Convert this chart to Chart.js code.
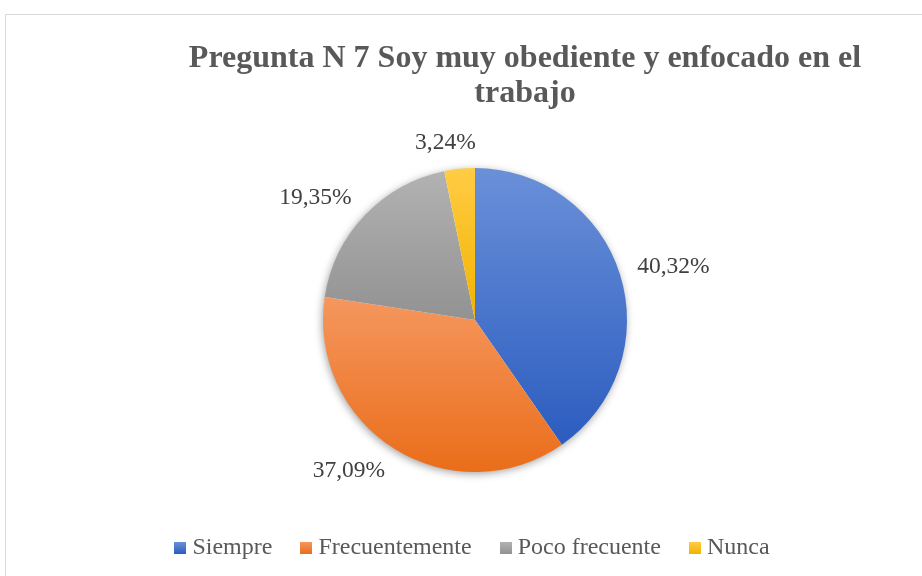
<!DOCTYPE html>
<html><head><meta charset="utf-8">
<script src="https://cdn.jsdelivr.net/npm/chart.js@4.4.0/dist/chart.umd.min.js"></script>
<style>html,body{margin:0;padding:0;background:#fff;overflow:hidden}#wrap{width:922px;height:576px;position:relative}</style>
</head><body><div id="wrap"><canvas id="c" width="922" height="576"></canvas></div>
<script>
const chartTitle = ['Pregunta N 7 Soy muy obediente y enfocado en el', 'trabajo'];
const categories = ['Siempre', 'Frecuentemente', 'Poco frecuente', 'Nunca'];
const percentages = [40.32, 37.09, 19.35, 3.24];
const valueLabels = ['40,32%', '37,09%', '19,35%', '3,24%'];
const colorsLight = ['#6a90d8', '#f5975e', '#b2b2b2', '#ffcc44'];
const colorsDark = ['#2b5cbf', '#ea6d1a', '#929292', '#f2b300'];

const SERIF = '"Liberation Serif", "Times New Roman", serif';

function swatch(i) {
  const c = document.createElement('canvas');
  c.width = 12; c.height = 12;
  const g = c.getContext('2d');
  const gr = g.createLinearGradient(0, 0, 0, 12);
  gr.addColorStop(0, colorsLight[i]);
  gr.addColorStop(1, colorsDark[i]);
  g.fillStyle = gr;
  g.fillRect(0, 0, 12, 12);
  return c;
}
const swatches = categories.map((_, i) => swatch(i));

const framePlugin = {
  id: 'frame',
  beforeDraw(chart) {
    const ctx = chart.ctx;
    ctx.save();
    ctx.fillStyle = '#ffffff';
    ctx.fillRect(0, 0, chart.width, chart.height);
    ctx.strokeStyle = '#d9d9d9';
    ctx.lineWidth = 1;
    ctx.strokeRect(5.5, 14.5, 2000, 2000);
    ctx.restore();
  },
  afterDraw(chart) {
    const ctx = chart.ctx;
    ctx.save();
    ctx.font = 'bold 32px ' + SERIF;
    ctx.fillStyle = '#595959';
    ctx.textAlign = 'center';
    ctx.textBaseline = 'alphabetic';
    ctx.fillText(chartTitle[0], 525, 67);
    ctx.fillText(chartTitle[1], 525, 102);
    ctx.restore();
  }
};

const sliceFillPlugin = {
  id: 'sliceFill',
  beforeDatasetsDraw(chart) {
    const ctx = chart.ctx;
    const meta = chart.getDatasetMeta(0);
    if (!meta.data.length) return;
    const a0 = meta.data[0];
    ctx.save();
    ctx.shadowColor = 'rgba(0,0,0,0.4)';
    ctx.shadowBlur = 8;
    ctx.shadowOffsetX = -1;
    ctx.shadowOffsetY = 2;
    ctx.fillStyle = '#ffffff';
    ctx.beginPath();
    ctx.arc(a0.x, a0.y, a0.outerRadius - 0.5, 0, Math.PI * 2);
    ctx.fill();
    ctx.restore();
    meta.data.forEach((arc, i) => {
      let minY = arc.y, maxY = arc.y;
      const n = 60;
      for (let k = 0; k <= n; k++) {
        const a = arc.startAngle + (arc.endAngle - arc.startAngle) * k / n;
        const yy = arc.y + arc.outerRadius * Math.sin(a);
        minY = Math.min(minY, yy); maxY = Math.max(maxY, yy);
      }
      const gr = ctx.createLinearGradient(0, minY, 0, maxY);
      gr.addColorStop(0, colorsLight[i]);
      gr.addColorStop(1, colorsDark[i]);
      arc.options.backgroundColor = gr;
    });
  },
  afterDatasetsDraw(chart) {
    const ctx = chart.ctx;
    const meta = chart.getDatasetMeta(0);
    ctx.save();
    ctx.font = '23.5px ' + SERIF;
    ctx.fillStyle = '#404040';
    ctx.textAlign = 'center';
    ctx.textBaseline = 'middle';
    meta.data.forEach((arc, i) => {
      const t = valueLabels[i];
      const mid = (arc.startAngle + arc.endAngle) / 2;
      const cs = Math.cos(mid), sn = Math.sin(mid);
      const w = ctx.measureText(t).width, h = 24;
      const fx = Math.sign(cs) * Math.min(1, Math.abs(cs) * 4);
      const x = arc.x + (arc.outerRadius + 18) * cs + (w / 2) * fx;
      const y = arc.y + (arc.outerRadius + 14) * sn + (h / 2) * sn;
      ctx.fillText(t, x, y);
    });
    ctx.restore();
  }
};

new Chart(document.getElementById('c'), {
  type: 'pie',
  data: {
    labels: categories,
    datasets: [{
      data: percentages,
      backgroundColor: colorsDark,
      borderWidth: 0,
      radius: 152
    }]
  },
  options: {
    responsive: false,
    animation: false,
    layout: { padding: { top: 138, left: 30, right: 2, bottom: 6 } },
    plugins: {
      title: { display: false },
      tooltip: { enabled: false },
      legend: {
        position: 'bottom',
        labels: {
          usePointStyle: true,
          pointStyleWidth: 0.001,
          padding: 34,
          color: '#595959',
          font: { family: SERIF, size: 24 },
          generateLabels: () => categories.map((t, i) => ({
            text: t, pointStyle: swatches[i], fillStyle: colorsDark[i],
            strokeStyle: 'rgba(0,0,0,0)', lineWidth: 0, hidden: false, index: i,
            fontColor: '#595959'
          }))
        }
      }
    }
  },
  plugins: [framePlugin, sliceFillPlugin]
});
</script></body></html>
